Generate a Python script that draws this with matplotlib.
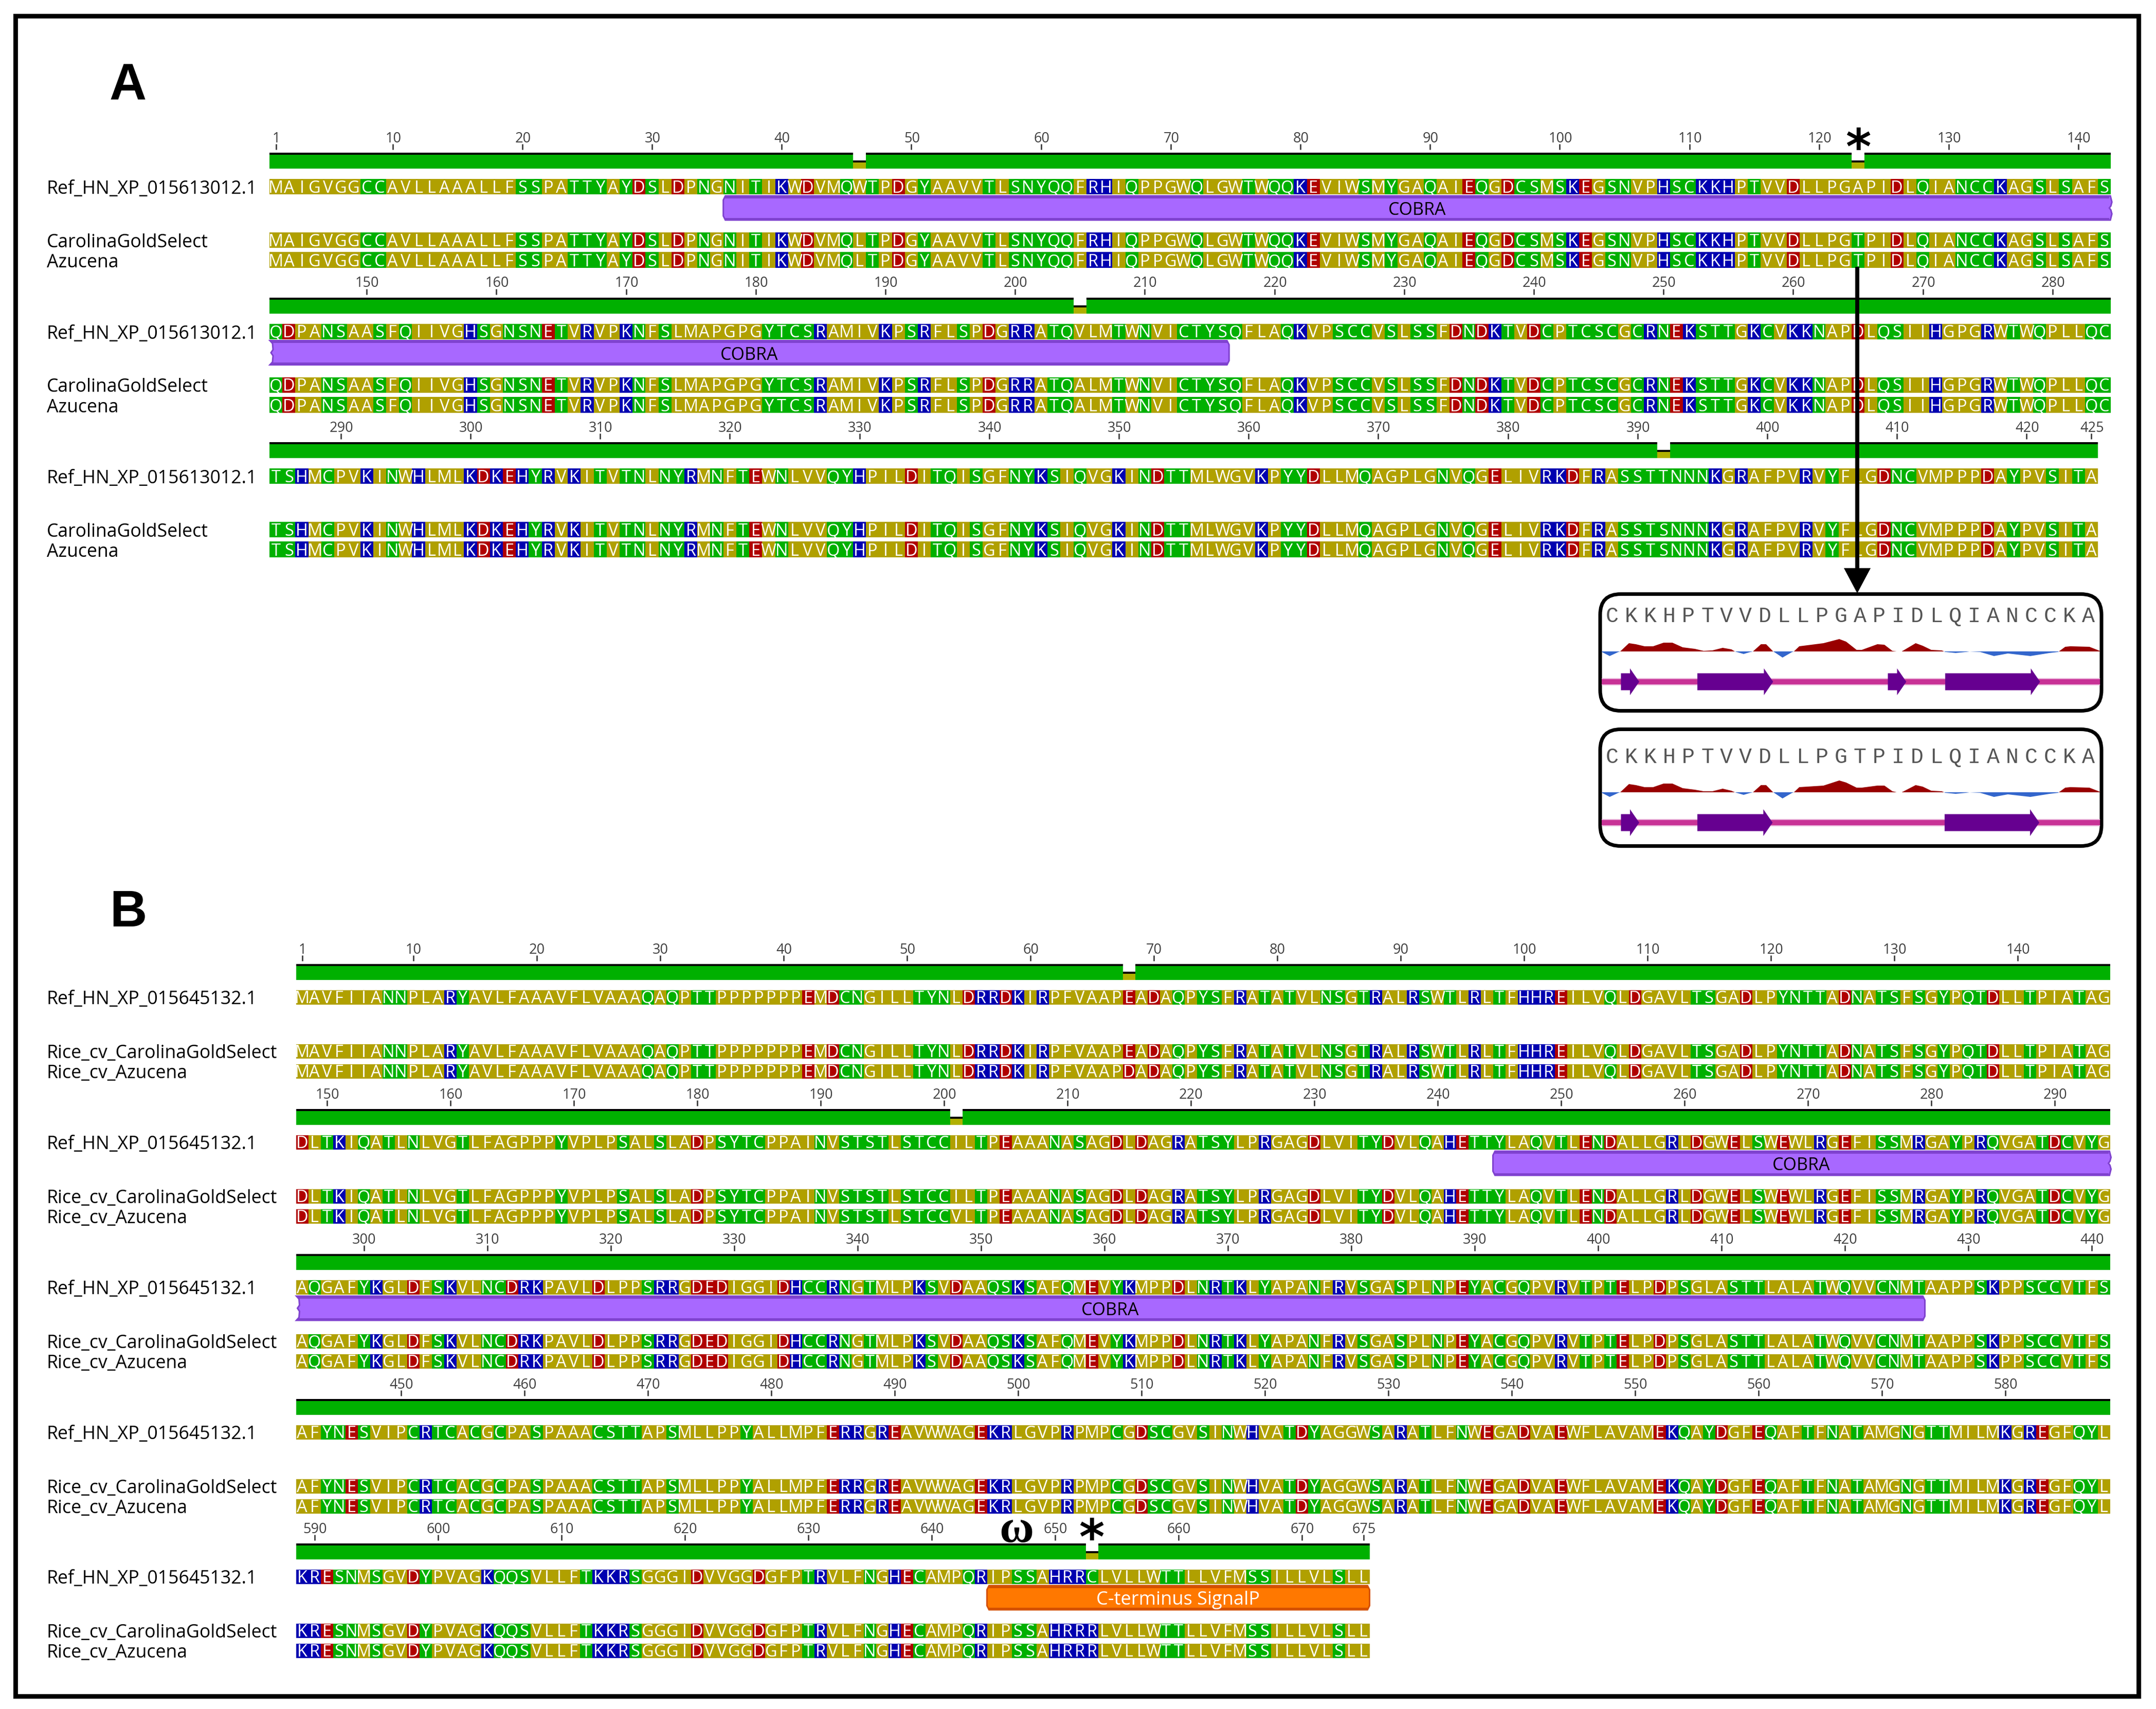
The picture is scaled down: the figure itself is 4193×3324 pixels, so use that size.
import numpy as np
import matplotlib
matplotlib.use("Agg")
import matplotlib.pyplot as plt
from matplotlib.patches import Rectangle, Polygon, FancyBboxPatch

# Panel A alignment, one string per displayed line
ref_a = [
    "MAIGVGGCCAVLLAAALLFSSPATTYAYDSLDPNGNITIKWDVMQWTPDGYAAVVTLSNYQQFRHIQPPGWQLGWTWQQKEVIWSMYGAQAIEQGDCSMSKEGSNVPHSCKKHPTVVDLLPGAPIDLQIANCCKAGSLSAFS",
    "QDPANSAASFQIIVGHSGNSNETVRVPKNFSLMAPGPGYTCSRAMIVKPSRFLSPDGRRATQVLMTWNVICTYSQFLAQKVPSCCVSLSSFDNDKTVDCPTCSCGCRNEKSTTGKCVKKNAPDLQSIIHGPGRWTWQPLLQC",
    "TSHMCPVKINWHLMLKDKEHYRVKITVTNLNYRMNFTEWNLVVQYHPILDITQISGFNYKSIQVGKINDTTMLWGVKPYYDLLMQAGPLGNVQGELIVRKDFRASSTTNNNKGRAFPVRVYFLGDNCVMPPPDAYPVSITA",
]
subs_a_carolina = {46: "L", 123: "T", 205: "A", 392: "S"}
subs_a_azucena = {46: "L", 123: "T", 205: "A", 392: "S"}
names_a = ["Ref_HN_XP_015613012.1", "CarolinaGoldSelect", "Azucena"]
ticks_a = [1] + list(range(10, 421, 10)) + [425]
cobra_a = [(36, 142), (143, 216)]

# Panel B alignment
ref_b = [
    "MAVFIIANNPLARYAVLFAAAVFLVAAAQAQPTTPPPPPPPEMDCNGILLTYNLDRRDKIRPFVAAPEADAQPYSFRATATVLNSGTRALRSWTLRLTFHHREILVQLDGAVLTSGADLPYNTTADNATSFSGYPQTDLLTPIATAG",
    "DLTKIQATLNLVGTLFAGPPPYVPLPSALSLADPSYTCPPAINVSTSTLSTCCILTPEAAANASAGDLDAGRATSYLPRGAGDLVITYDVLQAHETTYLAQVTLENDALLGRLDGWELSWEWLRGEFISSMRGAYPRQVGATDCVYG",
    "AQGAFYKGLDFSKVLNCDRKPAVLDLPPSRRGDEDIGGIDHCCRNGTMLPKSVDAAQSKSAFQMEVYKMPPDLNRTKLYAPANFRVSGASPLNPEYACGQPVRVTPTELPDPSGLASTTLALATWQVVCNMTAAPPSKPPSCCVTFS",
    "AFYNESVIPCRTCACGCPASPAAACSTTAPSMLLPPYALLMPFERRGREAVWWAGEKRLGVPRPMPCGDSCGVSINWHVATDYAGGWSARATLFNWEGADVAEWFLAVAMEKQAYDGFEQAFTFNATAMGNGTTMILMKGREGFQYL",
    "KRESNMSGVDYPVAGKQQSVLLFTKKRSGGGIDVVGGDGFPTRVLFNGHECAMPQRIPSSAHRRCLVLLWTTLLVFMSSILLVLSLL",
]
subs_b_carolina = {653: "R"}
subs_b_azucena = {68: "D", 201: "V", 653: "R"}
names_b = ["Ref_HN_XP_015645132.1", "Rice_cv_CarolinaGoldSelect", "Rice_cv_Azucena"]
ticks_b = [1] + list(range(10, 671, 10)) + [675]
cobra_b = [(245, 294), (295, 426)]
signalp_b = (645, 675)

# Zoomed protein view insets
inset_seqs = ["CKKHPTVVDLLPGAPIDLQIANCCKA", "CKKHPTVVDLLPGTPIDLQIANCCKA"]
profile_pos = [-0.55, -0.13, 0.33, 0.42, 0.88, 1.24, 1.7, 2.15, 2.7, 3.16, 3.7, 4.34, 4.8, 5.26, 5.8,
               6.26, 6.44, 6.53, 6.9, 7.26, 7.39, 7.81, 8.08, 8.45, 8.5, 8.94, 9.45, 9.54, 9.82, 11.09,
               11.92, 12.28, 12.83, 13.1, 13.92, 14.29, 14.71, 14.93, 15.2, 15.93, 16.3, 16.75, 17.3,
               17.48, 18.03, 18.58, 18.76, 19.31, 20.04, 20.77, 21.95, 22.96, 23.41, 23.78, 24.05,
               25.05, 25.6]
profile_top = [-1, -9, -1, 0, 16, 14, 10, 10, 17, 17, 8, 5, 1, 2, 7,
               4, 0, -1, -5, -1, 0, 14, 14, 0, -1, -12, -1, 0, 10, 16,
               24, 19, 3, 3, 14, 13, 1, 0, 0, 16, 11, 3, 2,
               -1, -3, -1, 0, -1, -9, -4, -9, -3, -1, 9, 10, 9, 1]
profile_bottom = [-1, -9, -1, 0, 16, 14, 10, 10, 17, 17, 8, 5, 2, 2, 7,
                  3, 0, -1, -5, -1, 0, 14, 14, 0, -1, -12, -1, 0, 10, 13,
                  23, 19, 9, 9, 13, 13, 2, 0, 0, 14, 11, 3, 2,
                  -1, -3, -1, 0, -1, -9, -4, -9, -3, -1, 9, 10, 9, 1]
strands_top = [(0.46, 1.42), (4.47, 8.45), (14.47, 15.44), (17.48, 22.46)]
strands_bottom = [(0.46, 1.42), (4.47, 8.42), (17.45, 22.42)]

POLARITY = {}
for aa in "AVLIMFPWG":
    POLARITY[aa] = "#b0a000"
for aa in "STNQCY":
    POLARITY[aa] = "#00b000"
for aa in "KRH":
    POLARITY[aa] = "#0000b0"
for aa in "DE":
    POLARITY[aa] = "#b00000"

plt.rcParams["font.family"] = ["Open Sans", "DejaVu Sans"]
PX = 0.72  # points per pixel at dpi 100

fig = plt.figure(figsize=(4193 / 100, 3324 / 100), dpi=100)
ax = fig.add_axes([0, 0, 1, 1])
ax.set_xlim(0, 4193)
ax.set_ylim(3324, 0)
ax.axis("off")


def apply_subs(lines, subs, first=1):
    out = []
    pos = first
    for line in lines:
        chars = list(line)
        for i in range(len(chars)):
            if pos + i in subs:
                chars[i] = subs[pos + i]
        out.append("".join(chars))
        pos += len(line)
    return out


def draw_row(seq, left, w, y0, y1):
    xs = left + w * np.arange(len(seq))
    colors = [POLARITY[c] for c in seq]
    ax.bar(xs, y1 - y0, width=w, bottom=y0, align="edge", color=colors, linewidth=0, antialiased=False)
    for x, c in zip(xs, seq):
        ax.text(x + w / 2, y1 - 3, c, color="white", fontsize=23.5, ha="center", va="baseline")


def draw_conservation(seqs, left, w, top):
    # identical columns are merged into one run, changed columns are drawn on their own
    n = len(seqs[0])
    changed = [i for i in range(n) if len({s[i] for s in seqs}) > 1]
    edges = [-1] + changed + [n]
    for a, b in zip(edges[:-1], edges[1:]):
        x0 = left + (a + 1) * w
        x1 = left + b * w
        if x1 > x0:
            ax.add_patch(Rectangle((x0, top), x1 - x0, 4, fc="black", lw=0, antialiased=False))
            ax.add_patch(Rectangle((x0, top + 4), x1 - x0, 27, fc="#00b000", lw=0, antialiased=False))
    for i in changed:
        x = left + i * w
        ax.add_patch(Rectangle((x, top + 15), w, 4, fc="black", lw=0, antialiased=False))
        ax.add_patch(Rectangle((x, top + 19), w, 12, fc="#b0b000", lw=0, antialiased=False))


def draw_feature(x0, x1, y0, y1, fill, edge, label, textcolor, size=24.5, open_left=False, open_right=False):
    c = 8
    pts = []
    if open_left:
        ym = (y0 + y1) / 2
        pts += [(x0 + 1, y1), (x0 + 6, ym + 18), (x0 + 7, ym + 6), (x0 + 3, ym), (x0 + 7, ym - 6), (x0 + 6, ym - 18), (x0 + 1, y0)]
    else:
        pts += [(x0 + 4, y1), (x0, y1 - c), (x0, y0 + c), (x0 + 4, y0)]
    if open_right:
        ym = (y0 + y1) / 2
        pts += [(x1 - 1, y0), (x1 + 2, y0 + 12), (x1, ym - 4), (x1 - 3, ym), (x1, ym + 4), (x1 + 2, y1 - 12), (x1 - 1, y1)]
    else:
        pts += [(x1 - 4, y0), (x1, y0 + c), (x1, y1 - c), (x1 - 4, y1)]
    ax.add_patch(Polygon(pts, closed=True, fc=fill, ec=edge, lw=3 * PX, zorder=3))
    # darker bands along top and bottom
    ax.add_patch(Rectangle((x0 + 3, y0), x1 - x0 - 6, 4.5, fc=edge, lw=0, zorder=3))
    ax.add_patch(Rectangle((x0 + 3, y1 - 4.5), x1 - x0 - 6, 4.5, fc=edge, lw=0, zorder=3))
    ax.text((x0 + x1) / 2, y1 - 10, label, color=textcolor, fontsize=size, ha="center", va="baseline", zorder=4)


def draw_panel(ref_lines, subs1, subs2, names, ticks, features, left, w, tops, offs):
    line1 = apply_subs(ref_lines, subs1)
    line2 = apply_subs(ref_lines, subs2)
    start = 1
    for k, top in enumerate(tops):
        seqs = [ref_lines[k], line1[k], line2[k]]
        n = len(seqs[0])
        draw_conservation(seqs, left, w, top)
        for t in ticks:
            if start <= t < start + n:
                x = left + (t - start + 0.5) * w
                ax.plot([x, x], [top - 17, top - 6], color="#333333", lw=2.6 * PX, solid_capstyle="butt")
                ax.text(x + 1, top - 20, str(t), color="#404040", fontsize=19.5, ha="center", va="baseline")
        for name, seq, (y0, y1) in zip(names, seqs, offs):
            draw_row(seq, left, w, top + y0, top + y1)
            ax.text(91, top + y1 - 1, name, color="black", fontsize=25.7, ha="left", va="baseline")
        for r0, r1, kind in features:
            if r0 >= start and r1 < start + n:
                x0 = left + (r0 - start) * w
                x1 = left + (r1 - start + 1) * w
                ya, yb = top + offs[0][1] + 3, top + offs[0][1] + 50
                if kind == "signalp":
                    draw_feature(x0, x1, ya, yb, "#ff7800", "#d45000", "C-terminus SignalP", "white", size=26)
                else:
                    draw_feature(x0, x1, ya, yb, "#a868ff", "#7f42cf", "COBRA", "black",
                                 open_left=(r0 == start), open_right=(r1 == start + n - 1))
        start += n


# outer frame
ax.add_patch(Rectangle((29.5, 30.5), 4129, 3268, fc="none", ec="black", lw=9 * PX))
ax.text(213, 194, "A", fontsize=72, fontweight="bold", family="Liberation Sans", ha="left", va="baseline")
ax.text(213, 1802, "B", fontsize=72, fontweight="bold", family="Liberation Sans", ha="left", va="baseline")

draw_panel(ref_a, subs_a_carolina, subs_a_azucena, names_a, ticks_a,
           [(a, b, "cobra") for a, b in cobra_a], 524, 25.22, [297, 578.5, 860],
           [(51, 81), (155, 185), (193, 224)])
draw_panel(ref_b, subs_b_carolina, subs_b_azucena, names_b, ticks_b,
           [(a, b, "cobra") for a, b in cobra_b] + [(signalp_b[0], signalp_b[1], "signalp")],
           575.5, 24.0, [1875, 2157, 2439, 2721, 3002],
           [(51, 79), (156, 184), (195, 223)])

# variant markers above the conservation bars
ax.text(3614, 318, "*", fontsize=68, fontweight="bold", family="DejaVu Sans", ha="center", va="baseline", zorder=6)
ax.text(2123, 3022, "*", fontsize=68, fontweight="bold", family="DejaVu Sans", ha="center", va="baseline", zorder=6)
ax.text(1977, 2999, "\u03c9", fontsize=66, fontweight="bold", family="Liberation Serif", ha="center", va="baseline", zorder=6)

# arrow from the variant column down to the inset
ax.plot([3612, 3612], [519, 1110], color="black", lw=8 * PX, solid_capstyle="butt", zorder=7)
ax.add_patch(Polygon([(3586, 1105), (3638, 1105), (3612, 1154)], closed=True, fc="black", lw=0, zorder=7))


def draw_inset(top, seq, heights, strands, shift):
    ax.add_patch(FancyBboxPatch((3112 + 40, top + 3.5 + 40), 975 - 80, 227 - 80,
                                boxstyle="round,pad=40,rounding_size=40", fc="white", ec="black",
                                lw=7 * PX, zorder=2))
    step = 37.05
    x0 = 3135.4
    for i, c in enumerate(seq):
        ax.text(x0 + i * step, top + 58 + shift, c, color="#555555", fontsize=30, family="Liberation Mono",
                ha="center", va="baseline", zorder=3)
    base = top + 115 + shift
    xs = x0 + step * np.array(profile_pos)
    h = np.array(heights, dtype=float)
    ax.fill_between(xs, base, base - h, where=h >= 0, interpolate=True, color="#990000", lw=0, zorder=3)
    ax.fill_between(xs, base, base - h, where=h <= 0, interpolate=True, color="#3366cc", lw=0, zorder=3)
    ss = top + 174 + shift
    ax.add_patch(Rectangle((3115, ss - 7), 969, 14, fc="#e8b0d8", lw=0, zorder=3))
    ax.add_patch(Rectangle((3115, ss - 5), 969, 10, fc="#c83296", lw=0, zorder=3))
    for a, b in strands:
        xa = x0 + a * step
        xb = x0 + b * step
        ax.arrow(xa, ss, xb - xa, 0, width=33, head_width=52, head_length=18, length_includes_head=True,
                 fc="#660090", ec="none", lw=0, zorder=4)


draw_inset(1152, inset_seqs[0], profile_top, strands_top, 0)
draw_inset(1415, inset_seqs[1], profile_bottom, strands_bottom, 11)

fig.savefig("out.png", dpi=100, facecolor="white")
